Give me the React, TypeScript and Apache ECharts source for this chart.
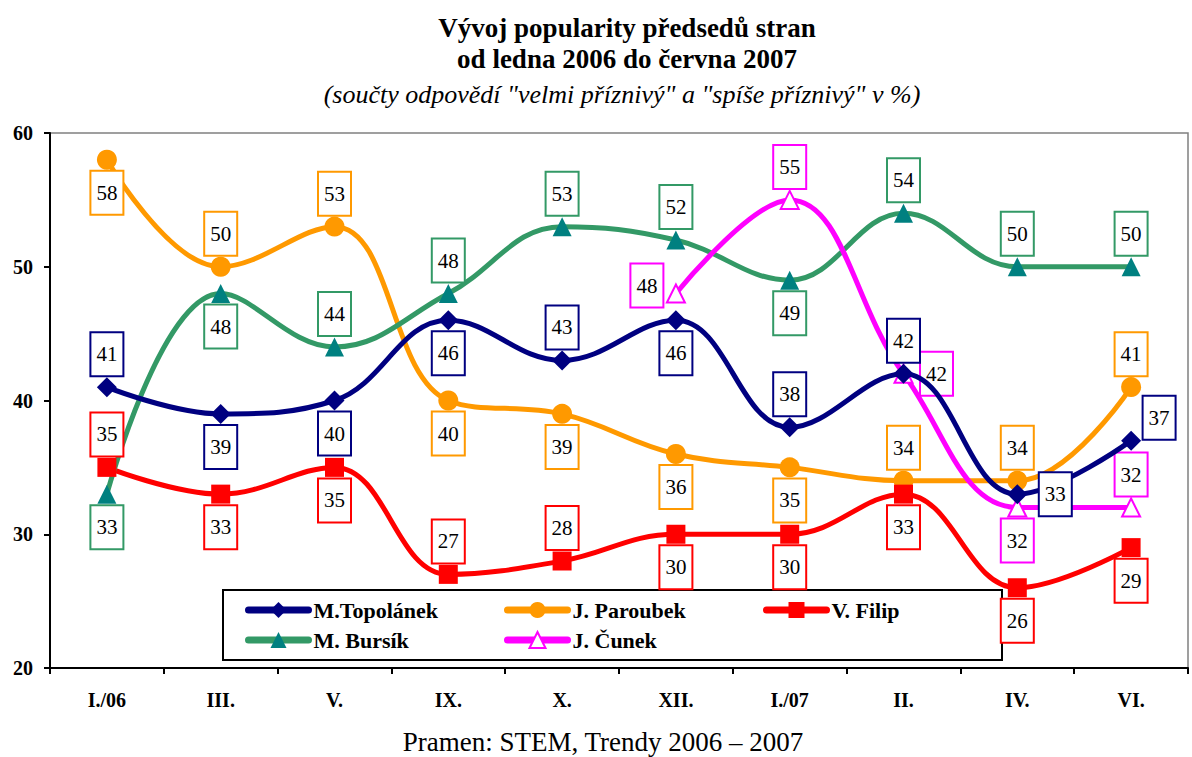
import React, { useEffect, useRef } from "react";
import * as echarts from "echarts";

const categories = ["I./06", "III.", "V.", "IX.", "X.", "XII.", "I./07", "II.", "IV.", "VI."];
const topolanek = [41, 39, 40, 46, 43, 46, 38, 42, 33, 37];
const paroubek = [58, 50, 53, 40, 39, 36, 35, 34, 34, 41];
const filip = [35, 33, 35, 27, 28, 30, 30, 33, 26, 29];
const bursik = [33, 48, 44, 48, 53, 52, 49, 54, 50, 50];
const cunek = [null, null, null, null, null, 48, 55, 42, 32, 32];
const yTicks = [20, 30, 40, 50, 60];

// label placement codes (layout, not data)
const posTopolanek = ["a", "b", "b", "b", "a", "b", "a", "a", "r", "rt"];
const posParoubek = ["b", "a", "a", "b", "b", "b", "b", "a", "a", "a"];
const posFilip = ["a", "b", "b", "a", "a", "b", "b", "b", "b", "b"];
const posBursik = ["b", "b", "a", "a", "a", "a", "b", "a", "a", "a"];
const posCunek = ["", "", "", "", "", "l", "a", "r2", "b", "a"];

const OFFSETS: Record<string, number[]> = {
  a: [0, -33],
  b: [0, 33],
  l: [-29, -8],
  r: [38, 0],
  r2: [33, 0],
  rt: [28, -23],
};

const SERIF = "Liberation Serif, Times New Roman, serif";

function build(values: (number | null)[], pos: string[]) {
  return values.map((v, i) =>
    v === null ? null : { value: v, label: { offset: OFFSETS[pos[i]] || [0, 0] } }
  );
}

function labelCfg(border: string) {
  return {
    show: true,
    position: "inside",
    formatter: "{c}",
    color: "#000",
    fontFamily: SERIF,
    fontSize: 21,
    lineHeight: 22,
    backgroundColor: "#fff",
    borderColor: border,
    borderWidth: 2,
    padding: [10, 5, 10, 5],
  };
}

export default function App() {
  const ref = useRef<HTMLDivElement>(null);
  useEffect(() => {
    if (!ref.current) return;
    const chart = echarts.init(ref.current, null, { renderer: "svg" });
    const legendText = { fontFamily: SERIF, fontWeight: "bold", fontSize: 22, color: "#000" };
    const legendBase = {
      itemWidth: 60,
      itemHeight: 20,
      padding: 0,
      itemGap: 0,
      textStyle: legendText,
      z: 10,
      selectedMode: false,
      lineStyle: { width: 7, cap: "round" },
    };
    const txt = (text: string, x: number, y: number, font: string) => ({
      type: "text",
      x,
      y,
      z: 10,
      style: {
        text,
        font,
        fill: "#000",
        align: "center",
        verticalAlign: "middle",
        textAlign: "center",
        textVerticalAlign: "middle",
      },
    });
    chart.setOption({
      animation: false,
      backgroundColor: "#fff",
      grid: {
        left: 50,
        right: 4,
        top: 133,
        bottom: 89,
        show: true,
        borderColor: "#808080",
        borderWidth: 1.5,
        backgroundColor: "transparent",
      },
      xAxis: {
        type: "category",
        data: categories,
        boundaryGap: true,
        axisLine: { lineStyle: { color: "#000", width: 2 } },
        axisTick: { show: true, length: 6, interval: 0, lineStyle: { color: "#000", width: 2 } },
        axisLabel: {
          interval: 0,
          margin: 22,
          fontFamily: SERIF,
          fontWeight: "bold",
          fontSize: 20,
          color: "#000",
        },
      },
      yAxis: {
        type: "value",
        min: yTicks[0],
        max: yTicks[yTicks.length - 1],
        interval: 10,
        axisLine: { show: true, lineStyle: { color: "#000", width: 2 } },
        axisTick: { show: true, length: 6, lineStyle: { color: "#000", width: 2 } },
        splitLine: { show: false },
        axisLabel: {
          margin: 17,
          fontFamily: SERIF,
          fontWeight: "bold",
          fontSize: 20,
          color: "#000",
        },
      },
      legend: [
        { ...legendBase, data: ["M.Topolánek"], left: 245, top: 599 },
        { ...legendBase, data: ["J. Paroubek"], left: 504, top: 599 },
        { ...legendBase, data: ["V. Filip"], left: 763, top: 599 },
        { ...legendBase, data: ["M. Bursík"], left: 245, top: 629 },
        { ...legendBase, data: ["J. Čunek"], left: 504, top: 629 },
      ],
      graphic: [
        txt("Vývoj popularity předsedů stran", 627, 28, `bold 27px ${SERIF}`),
        txt("od ledna 2006 do června 2007", 627, 59, `bold 27px ${SERIF}`),
        txt('(součty odpovědí "velmi příznivý" a "spíše příznivý" v %)', 622, 94, `italic 26px ${SERIF}`),
        txt("Pramen: STEM, Trendy 2006 – 2007", 603, 742, `27px ${SERIF}`),
        {
          type: "rect",
          z: 1,
          shape: { x: 223, y: 590, width: 779, height: 70 },
          style: { fill: "#fff", stroke: "#000", lineWidth: 2 },
        },
      ],
      series: [
        {
          name: "M.Topolánek",
          type: "line",
          smooth: 0.4,
          data: build(topolanek, posTopolanek),
          symbol: "diamond",
          symbolSize: 20,
          lineStyle: { color: "#000080", width: 5 },
          itemStyle: { color: "#000080" },
          label: labelCfg("#000080"),
          z: 4,
        },
        {
          name: "J. Paroubek",
          type: "line",
          smooth: 0.4,
          data: build(paroubek, posParoubek),
          symbol: "circle",
          symbolSize: 20,
          lineStyle: { color: "#FF9900", width: 5 },
          itemStyle: { color: "#FF9900" },
          label: labelCfg("#FF9900"),
          z: 3,
        },
        {
          name: "V. Filip",
          type: "line",
          smooth: 0.4,
          data: build(filip, posFilip),
          symbol: "rect",
          symbolSize: 19,
          lineStyle: { color: "#FF0000", width: 5 },
          itemStyle: { color: "#FF0000" },
          label: labelCfg("#FF0000"),
          z: 3,
        },
        {
          name: "M. Bursík",
          type: "line",
          smooth: 0.4,
          data: build(bursik, posBursik),
          symbol: "triangle",
          symbolSize: 19,
          lineStyle: { color: "#339966", width: 5 },
          itemStyle: { color: "#008080" },
          label: labelCfg("#339966"),
          z: 3,
        },
        {
          name: "J. Čunek",
          type: "line",
          smooth: 0.4,
          data: build(cunek, posCunek),
          symbol: "triangle",
          symbolSize: 18,
          lineStyle: { color: "#FF00FF", width: 5 },
          itemStyle: { color: "#FFFFFF", borderColor: "#FF00FF", borderWidth: 2 },
          label: labelCfg("#FF00FF"),
          z: 3,
        },
      ],
    });
    return () => chart.dispose();
  }, []);
  return (
    <div
      ref={ref}
      style={{ position: "absolute", left: 0, top: 0, width: 1192, height: 757 }}
    />
  );
}
